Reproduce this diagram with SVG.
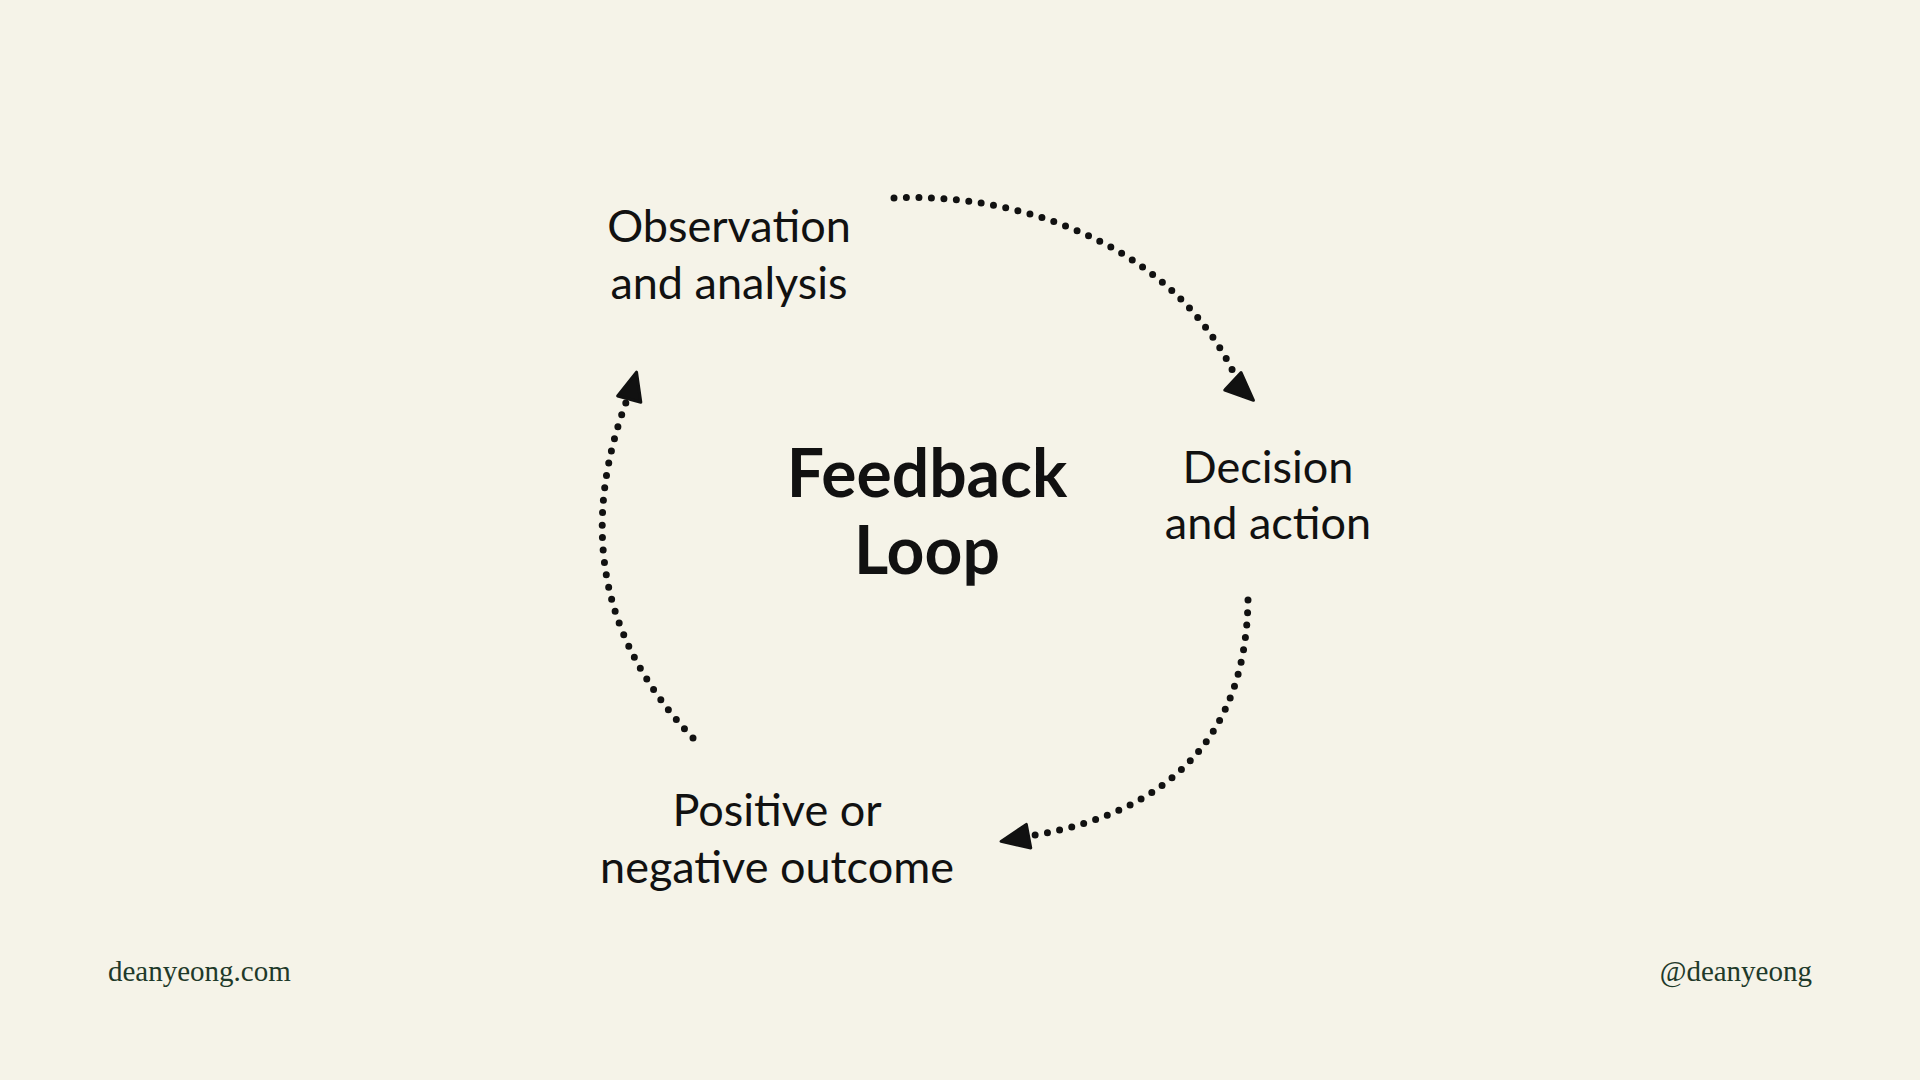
<svg xmlns="http://www.w3.org/2000/svg" width="1920" height="1080" viewBox="0 0 1920 1080">
<defs>
<style>
.lbl{font-family:Lato,"Open Sans",sans-serif;font-size:45px;fill:#111;text-anchor:middle}
.ttl{font-family:Lato,"Open Sans",sans-serif;font-size:66px;font-weight:bold;fill:#111;text-anchor:middle}
.ft{font-family:"Liberation Serif",serif;font-size:29px;fill:#1f3a2a}
.arc{fill:none;stroke:#111;stroke-width:7;stroke-linecap:round;stroke-dasharray:0 12.5}
</style>
<marker id="ah" markerUnits="userSpaceOnUse" markerWidth="34" markerHeight="34" refX="28" refY="14" orient="auto" viewBox="0 0 34 28">
<path d="M2,2 L30,14 L2,26 Z" fill="#111" stroke="#111" stroke-width="3" stroke-linejoin="round"/>
</marker>
</defs>
<rect width="1920" height="1080" fill="#f5f3e8"/>
<g id="connectors">
<path class="arc" d="M894,198 C1010,192 1175,240 1238,382" />
<path d="M1225,374 L1252,399" stroke="none" fill="none" marker-end="url(#ah)"/>
<path class="arc" d="M1248,600 Q1245,800 1030,836" />
<path d="M1040,834 L1003,841" fill="none" marker-end="url(#ah)"/>
<path class="arc" d="M693,738 Q552,590 630,392" />
<path d="M629,400 L636,374" fill="none" marker-end="url(#ah)"/>
</g>
<g id="obs"><text class="lbl" x="729" y="242">Observation</text><text class="lbl" x="729" y="299">and analysis</text></g>
<g id="dec"><text class="lbl" x="1268" y="483">Decision</text><text class="lbl" x="1268" y="539">and action</text></g>
<g id="out"><text class="lbl" x="777" y="826">Positive or</text><text class="lbl" x="777" y="883">negative outcome</text></g>
<g id="center"><text class="ttl" x="927" y="497">Feedback</text><text class="ttl" x="927" y="574">Loop</text></g>
<text class="ft" x="108" y="981">deanyeong.com</text>
<text class="ft" x="1812" y="981" text-anchor="end">@deanyeong</text>
</svg>
